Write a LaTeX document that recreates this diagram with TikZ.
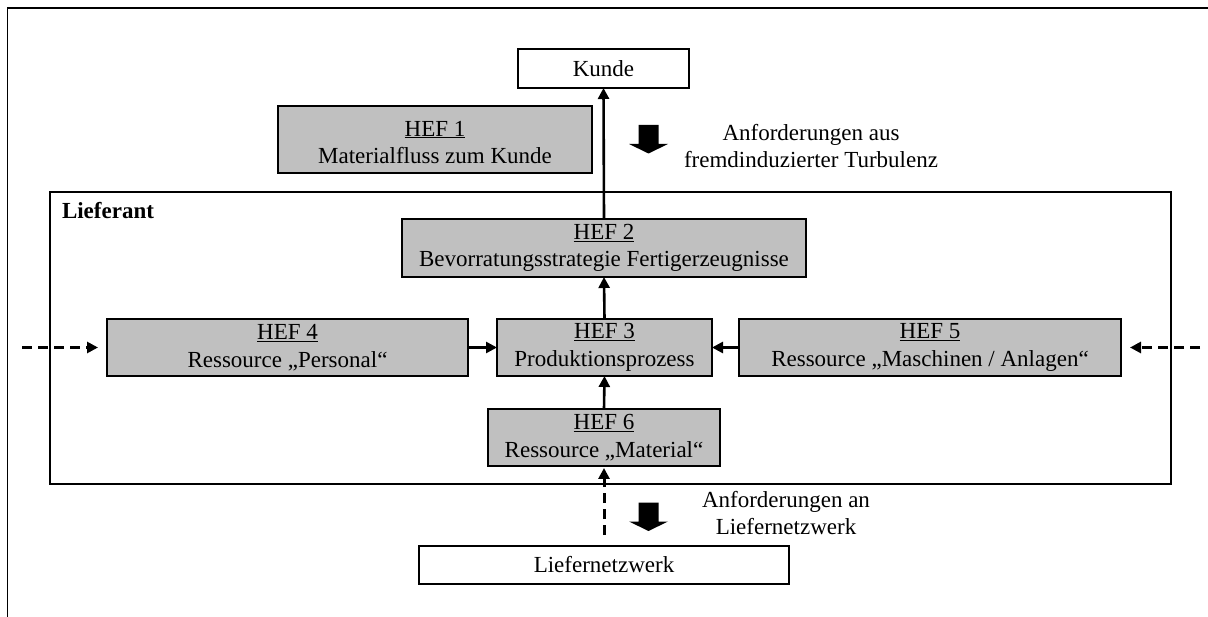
\documentclass[tikz,border=0pt]{standalone}
\usepackage{fontspec}
\setmainfont{Liberation Serif}
\usetikzlibrary{arrows.meta}
\definecolor{hefgrey}{RGB}{192,192,192}
\newcommand{\txtsize}{\fontsize{23}{27.5}\selectfont}
\begin{document}
\begin{tikzpicture}[x=1pt,y=-1pt,
  every node/.style={font=\txtsize, inner sep=0pt, outer sep=0pt},
  hefbox/.style={draw=black, line width=1.2pt, fill=hefgrey, align=center, minimum height=57pt},
  endbox/.style={draw=black, line width=1.2pt, fill=white, minimum height=38pt},
  flow/.style={line width=2.6pt, -{Triangle[length=11pt,width=11pt]}},
  extflow/.style={line width=3pt, dash pattern=on 10pt off 6pt, -{Triangle[length=11pt,width=11pt]}},
  note/.style={align=center, font=\fontsize{23}{27}\selectfont}
]
\useasboundingbox (0,0) rectangle (1208,617);

% outer frame (top and left edges)
\draw[line width=1.3pt] (7.5,617) -- (7.5,8) -- (1208,8);

% supplier frame
\node[draw=black, line width=1.2pt, minimum width=1121pt, minimum height=292pt] (lieferant) at (610.5,338) {};
\node[anchor=base west, font={\txtsize\bfseries}] (lieflabel) at (62,219) {Lieferant};

% customer and supply network
\node[endbox, minimum width=171pt, minimum height=39pt] (kunde) at (603.5,68.5) {Kunde};
\node[endbox, minimum width=370pt] (liefnetz) at (604,565) {Liefernetzwerk};

% design fields
\node[hefbox, minimum width=314pt, minimum height=67pt,
      label={[align=center, yshift=-3pt]center:{\underline{HEF 1}\\Materialfluss zum Kunde}}] (hef1) at (435,139.5) {};
\node[hefbox, minimum width=404pt, minimum height=58pt] (hef2) at (604,248) {\underline{HEF 2}\\Bevorratungsstrategie Fertigerzeugnisse};
\node[hefbox, minimum width=215pt] (hef3) at (604.5,347.5) {\underline{HEF 3}\\Produktionsprozess};
\node[hefbox, minimum width=361pt] (hef4) at (287.5,347.5) {\underline{HEF 4}\\Ressource „Personal“};
\node[hefbox, minimum width=382pt] (hef5) at (930,347.5) {\underline{HEF 5}\\Ressource „Maschinen / Anlagen“};
\node[hefbox, minimum width=232pt] (hef6) at (604,437.5) {\underline{HEF 6}\\Ressource „Material“};

% requirement notes
\node[note] (anfkunde) at (811,146) {Anforderungen aus\\fremdinduzierter Turbulenz};
\node[note] (anfnetz) at (786,513) {Anforderungen an\\Liefernetzwerk};

% block arrows
\coordinate (ba1) at (648.5,125);
\coordinate (ba2) at (648.5,502.5);
\foreach \c in {ba1,ba2}{
  \fill[black] (\c) ++(-10,0) -- ++(20,0) -- ++(0,19) -- ++(9.5,0) -- ++(-19.5,9.5) -- ++(-19.5,-9.5) -- ++(9.5,0) -- cycle;
}

% material and resource flows
\draw[flow] (hef2.north) -- (kunde.south);
\draw[flow] (hef3.north) -- (hef2.south);
\draw[flow] (hef6.north) -- (hef3.south);
\draw[flow] (hef4.east) -- (hef3.west);
\draw[flow] (hef5.west) -- (hef3.east);

% external inputs
\coordinate (inleft) at (22,347.5);
\coordinate (inright) at (1200,347.5);
\draw[extflow, shorten >=9pt] (inleft) -- (hef4.west);
\draw[extflow, shorten >=9pt] (inright) -- (hef5.east);
\draw[extflow, shorten <=11pt, shorten >=2pt] (liefnetz.north) -- (hef6.south);
\end{tikzpicture}
\end{document}
